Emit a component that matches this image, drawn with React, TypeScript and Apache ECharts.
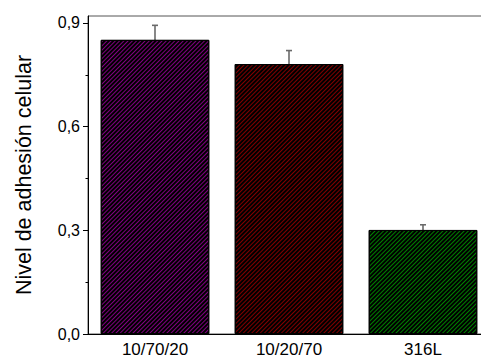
import React, { useEffect, useRef } from "react";
import * as echarts from "echarts";

const categories = ["10/70/20", "10/20/70", "316L"];
const values = [0.851, 0.781, 0.301];
const errors = [0.042, 0.039, 0.015];
const barColors = ["#800080", "#800000", "#008000"];
const yTicks = [0, 0.3, 0.6, 0.9];
const yMinorTicks = [0.15, 0.45, 0.75];
const yAxisTitle = "Nivel de adhesión celular";

export default function App() {
  const ref = useRef<HTMLDivElement>(null);
  useEffect(() => {
    document.body.style.margin = "0";
    document.body.style.overflow = "hidden";
    const chart = echarts.init(ref.current!, null, { renderer: "svg" });
    const font = "'Liberation Sans', Arial, sans-serif";
    const fmt = (v: number) => v.toFixed(1).replace(".", ",");
    chart.setOption({
      animation: false,
      grid: {
        left: 88,
        right: 0,
        top: 16,
        bottom: 24,
        show: true,
        borderColor: "#555",
        borderWidth: 1,
        backgroundColor: "transparent",
      },
      xAxis: [
        {
          type: "category",
          data: categories,
          position: "bottom",
          axisLine: { lineStyle: { color: "#000", width: 1 } },
          axisTick: { alignWithLabel: true, length: 4, lineStyle: { color: "#000" } },
          axisLabel: { fontSize: 17, color: "#000", fontFamily: font, margin: 7 },
        },
        {
          type: "category",
          data: categories,
          position: "bottom",
          axisLine: { show: false },
          axisTick: { alignWithLabel: false, length: 2.5, lineStyle: { color: "#000" } },
          axisLabel: { show: false },
        },
      ],
      yAxis: [
        {
          type: "value",
          min: 0,
          max: 0.92,
          interval: 0.3,
          splitLine: { show: false },
          axisLine: { show: true, lineStyle: { color: "#000", width: 1 } },
          axisTick: { show: true, length: 5, customValues: yTicks, lineStyle: { color: "#000" } },
          axisLabel: {
            customValues: yTicks,
            formatter: fmt,
            fontSize: 16,
            color: "#000",
            fontFamily: font,
            margin: 8,
          },
          name: yAxisTitle,
          nameLocation: "middle",
          nameGap: 53,
          nameTextStyle: { fontSize: 21.5, color: "#000", fontFamily: font },
        },
        {
          type: "value",
          min: 0,
          max: 0.92,
          position: "left",
          splitLine: { show: false },
          axisLine: { show: false },
          axisTick: { show: true, length: 2.5, customValues: yMinorTicks, lineStyle: { color: "#000" } },
          axisLabel: { show: false },
        },
      ],
      series: [
        {
          type: "bar",
          xAxisIndex: 0,
          yAxisIndex: 0,
          barCategoryGap: "19%",
          data: values.map((v, i) => ({
            value: v,
            itemStyle: {
              color: barColors[i],
              borderColor: "#000",
              borderWidth: 1,
              decal: {
                symbol: "rect",
                symbolSize: 1,
                color: "#000",
                dashArrayX: [1, 0],
                dashArrayY: [1.3, 0.9],
                rotation: -Math.PI / 4,
              },
            },
          })),
        },
        {
          type: "custom",
          xAxisIndex: 0,
          yAxisIndex: 0,
          data: values.map((v, i) => [i, v, errors[i]]),
          renderItem: (params: any, api: any) => {
            const x = api.value(0);
            const v = api.value(1);
            const e = api.value(2);
            const top = api.coord([x, v + e]);
            const mid = api.coord([x, v]);
            const bot = api.coord([x, v - e]);
            const hw = 3;
            return {
              type: "group",
              children: [
                {
                  type: "line",
                  shape: { x1: top[0], y1: top[1], x2: mid[0], y2: mid[1] },
                  style: { stroke: "#6a6a6a", lineWidth: 1.6 },
                },
                {
                  type: "line",
                  shape: { x1: mid[0], y1: mid[1], x2: bot[0], y2: bot[1] },
                  style: { stroke: "#111", lineWidth: 1.6 },
                },
                {
                  type: "line",
                  shape: { x1: top[0] - hw, y1: top[1], x2: top[0] + hw, y2: top[1] },
                  style: { stroke: "#6a6a6a", lineWidth: 1.6 },
                },
              ],
            };
          },
        },
      ],
    });
    return () => chart.dispose();
  }, []);
  return (
    <div style={{ width: 481, height: 358, overflow: "hidden" }}>
      <div ref={ref} style={{ width: 490, height: 358 }} />
    </div>
  );
}
